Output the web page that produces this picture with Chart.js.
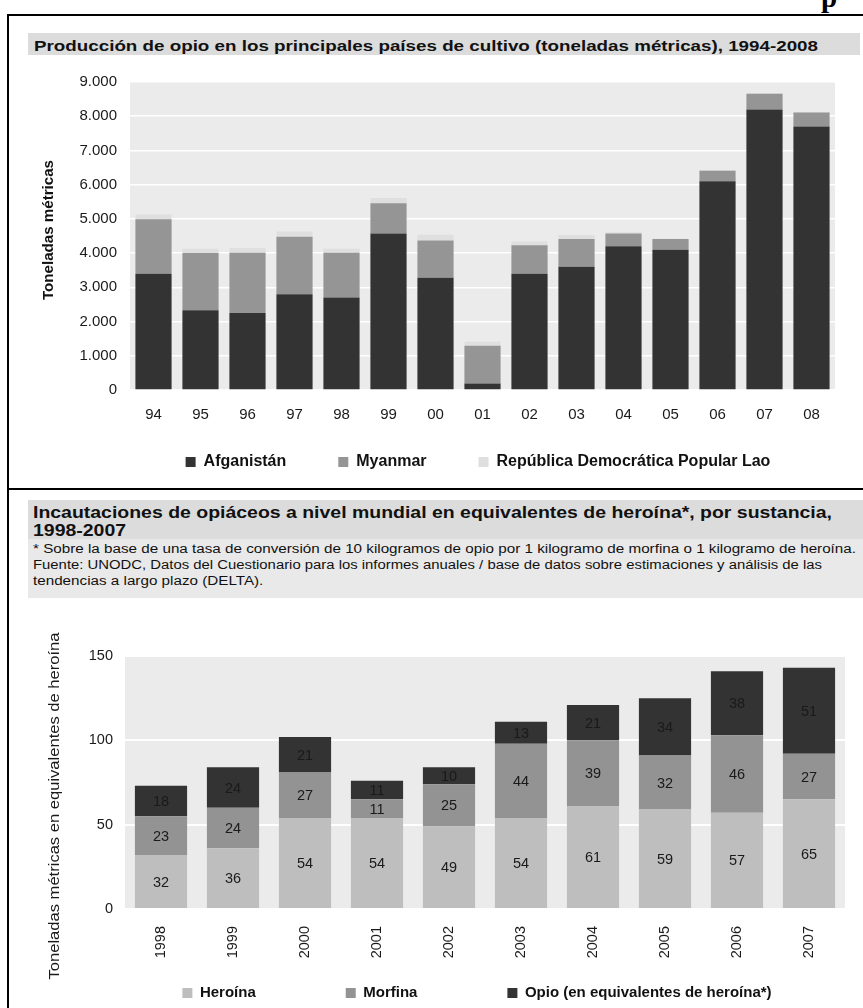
<!DOCTYPE html>
<html lang="es">
<head>
<meta charset="utf-8">
<title>Opio: producción e incautaciones</title>
<script src="https://cdn.jsdelivr.net/npm/chart.js@4.4.1/dist/chart.umd.min.js"></script>
<style>
  html, body { margin: 0; padding: 0; background: #fff; }
  body { position: relative; width: 863px; height: 1008px; overflow: hidden;
         font-family: "Liberation Sans", Arial, sans-serif; color: #111; }
  .rule { position: absolute; background: #000; }
  .band { position: absolute; }
  .txt { position: absolute; white-space: nowrap; transform-origin: 0 0; line-height: 1; }
  canvas { position: absolute; left: 0; }
</style>
</head>
<body>
<div class="txt" style="left:821px;top:-19px;font:bold 29px 'Liberation Serif',serif;color:#000">p</div>
<div class="rule" style="left:7px;top:14px;width:2px;height:994px"></div>
<div class="rule" style="left:7px;top:14px;width:856px;height:2px"></div>
<div class="rule" style="left:7px;top:488px;width:856px;height:2px"></div>

<div class="band" style="left:28px;top:33px;width:832px;height:22px;background:#dcdcdc"></div>
<div class="txt" id="t1" style="left:34px;top:37.3px;font:bold 15px 'Liberation Sans',Arial,sans-serif">Producción de opio en los principales países de cultivo (toneladas métricas), 1994-2008</div>
<canvas id="c1" width="863" height="428" style="top:60px"></canvas>

<div class="band" style="left:28px;top:500px;width:835px;height:39px;background:#dcdcdc"></div>
<div class="band" style="left:28px;top:539px;width:835px;height:59px;background:#e9e9e9"></div>
<div class="txt" id="t2a" style="left:33px;top:503.5px;font:bold 16px 'Liberation Sans',Arial,sans-serif">Incautaciones de opiáceos a nivel mundial en equivalentes de heroína*, por sustancia,</div>
<div class="txt" id="t2b" style="left:33px;top:522px;font:bold 16px 'Liberation Sans',Arial,sans-serif">1998-2007</div>
<div class="txt" id="n1" style="left:33px;top:542.4px;font:12.5px 'Liberation Sans',Arial,sans-serif">* Sobre la base de una tasa de conversión de 10 kilogramos de opio por 1 kilogramo de morfina o 1 kilogramo de heroína.</div>
<div class="txt" id="n2" style="left:33px;top:558.4px;font:12.5px 'Liberation Sans',Arial,sans-serif">Fuente: UNODC, Datos del Cuestionario para los informes anuales / base de datos sobre estimaciones y análisis de las</div>
<div class="txt" id="n3" style="left:33px;top:574.4px;font:12.5px 'Liberation Sans',Arial,sans-serif">tendencias a largo plazo (DELTA).</div>
<canvas id="c2" width="863" height="408" style="top:600px"></canvas>

<script>
// ---- Producción de opio (toneladas métricas), 1994-2008 ----
const years1 = ['94', '95', '96', '97', '98', '99', '00', '01', '02', '03', '04', '05', '06', '07', '08'];
const afganistan = [3400, 2330, 2250, 2800, 2700, 4570, 3280, 190, 3400, 3600, 4200, 4100, 6100, 8200, 7700];
const myanmar = [1590, 1670, 1760, 1680, 1310, 890, 1090, 1100, 830, 810, 370, 310, 310, 460, 410];
const laos = [140, 130, 140, 150, 120, 150, 170, 130, 110, 120, 40, 10, 20, 10, 10];
const yTicks1 = ['0', '1.000', '2.000', '3.000', '4.000', '5.000', '6.000', '7.000', '8.000', '9.000'];

// ---- Incautaciones en equivalentes de heroína, 1998-2007 ----
const years2 = ['1998', '1999', '2000', '2001', '2002', '2003', '2004', '2005', '2006', '2007'];
const heroina = [32, 36, 54, 54, 49, 54, 61, 59, 57, 65];
const morfina = [23, 24, 27, 11, 25, 44, 39, 32, 46, 27];
const opio = [18, 24, 21, 11, 10, 13, 21, 34, 38, 51];
const yTicks2 = ['0', '50', '100', '150'];

const FONT = "'Liberation Sans', Arial, sans-serif";
Chart.defaults.font.family = FONT;
Chart.defaults.color = '#1a1a1a';

// Stretch heading lines so each group spans its measured width.
function fitGroup(ids, target) {
  const ctx = document.createElement('canvas').getContext('2d');
  const first = document.getElementById(ids[0]);
  const cs = getComputedStyle(first);
  ctx.font = cs.fontWeight + ' ' + cs.fontSize + ' ' + cs.fontFamily;
  const k = target / ctx.measureText(first.textContent).width;
  ids.forEach(id => { document.getElementById(id).style.transform = 'scaleX(' + k + ')'; });
}
fitGroup(['t1'], 784);
fitGroup(['t2a', 't2b'], 799);
fitGroup(['n1', 'n3'], 823);
fitGroup(['n2'], 789);

// Grey panel behind the plotting area.
const plotBg = {
  id: 'plotBg',
  beforeDraw(chart, args, o) {
    const { ctx, chartArea: a } = chart;
    ctx.save();
    ctx.fillStyle = o.color;
    ctx.fillRect(a.left, a.top, a.right - a.left, a.bottom - a.top);
    ctx.restore();
  }
};

// Rotated axis title drawn at a fixed spot with a given length.
const axisTitle = {
  id: 'axisTitle',
  afterDraw(chart, args, o) {
    const ctx = chart.ctx;
    ctx.save();
    ctx.font = o.font;
    ctx.fillStyle = o.color;
    ctx.textAlign = 'center';
    ctx.textBaseline = 'middle';
    ctx.translate(o.x, o.y);
    ctx.rotate(-Math.PI / 2);
    const k = o.length ? o.length / ctx.measureText(o.text).width : 1;
    ctx.scale(k, 1);
    ctx.fillText(o.text, 0, 0);
    ctx.restore();
  }
};

// Place the legend row around a chosen centre point.
const legendPlace = {
  id: 'legendPlace',
  afterLayout(chart, args, o) {
    const lg = chart.legend;
    if (!lg) return;
    const w = lg.right - lg.left;
    const pad = lg.options.labels.padding;
    const fs = (lg.options.labels.font && lg.options.labels.font.size) || 12;
    const itemH = Math.max(fs, lg.options.labels.boxHeight || fs);
    lg.left = o.x - w / 2;
    lg.right = lg.left + w;
    lg.top = o.y - pad - itemH / 2;
    lg.bottom = o.y + itemH + 4;
    lg.height = lg.bottom - lg.top;
  }
};

// Values written in the middle of each stacked segment.
const segmentValues = {
  id: 'segmentValues',
  afterDatasetsDraw(chart, args, o) {
    const ctx = chart.ctx;
    ctx.save();
    ctx.font = o.font;
    ctx.fillStyle = o.color;
    ctx.textAlign = 'center';
    ctx.textBaseline = 'middle';
    chart.data.datasets.forEach((ds, i) => {
      chart.getDatasetMeta(i).data.forEach((bar, j) => {
        const p = bar.getProps(['x', 'y', 'base'], true);
        ctx.fillText(String(ds.data[j]), p.x, (p.y + p.base) / 2 + 1);
      });
    });
    ctx.restore();
  }
};

function fixedWidth(w) { return s => { s.width = w; }; }
function xHeight(plotBottom) {
  return s => { s.height = s.chart.height - plotBottom - (s.chart.legend ? s.chart.legend.height : 0); };
}

// Chart 1: plot spans x 130-835, y 21-330 inside its canvas.
new Chart(document.getElementById('c1'), {
  type: 'bar',
  data: {
    labels: years1,
    datasets: [
      { label: 'Afganistán', data: afganistan, backgroundColor: '#333333' },
      { label: 'Myanmar', data: myanmar, backgroundColor: '#959595' },
      { label: 'República Democrática Popular Lao', data: laos, backgroundColor: '#dfdfdf' }
    ]
  },
  options: {
    responsive: false,
    animation: false,
    events: [],
    layout: { padding: { top: 21, right: 28, left: 0, bottom: 0 } },
    datasets: { bar: { categoryPercentage: 1, barPercentage: 0.77, borderWidth: 0 } },
    scales: {
      x: {
        stacked: true,
        grid: { display: false },
        border: { display: false },
        ticks: { font: { size: 15 }, padding: 8, autoSkip: false, maxRotation: 0 },
        afterFit: xHeight(330)
      },
      y: {
        stacked: true,
        min: 0, max: 9000,
        grid: { color: '#ffffff', lineWidth: 1.5, drawTicks: false },
        border: { display: false },
        ticks: { stepSize: 1000, font: { size: 15 }, padding: 13, callback: v => yTicks1[Math.round(v / 1000)] },
        afterFit: fixedWidth(130)
      }
    },
    plugins: {
      legend: {
        position: 'bottom',
        maxHeight: 30,
        labels: { boxWidth: 10, boxHeight: 10, padding: 52, color: '#111', font: { size: 16, weight: 'bold' } }
      },
      tooltip: { enabled: false },
      plotBg: { color: '#ebebeb' },
      axisTitle: { text: 'Toneladas métricas', x: 49, y: 170, length: 140, font: 'bold 15px ' + FONT, color: '#111' },
      legendPlace: { x: 478, y: 402 }
    }
  },
  plugins: [plotBg, axisTitle, legendPlace]
});

// Chart 2: plot spans x 125-845, y 56-309 inside its canvas.
new Chart(document.getElementById('c2'), {
  type: 'bar',
  data: {
    labels: years2,
    datasets: [
      { label: 'Heroína', data: heroina, backgroundColor: '#bebebe' },
      { label: 'Morfina', data: morfina, backgroundColor: '#939393' },
      { label: 'Opio (en equivalentes de heroína*)', data: opio, backgroundColor: '#333333' }
    ]
  },
  options: {
    responsive: false,
    animation: false,
    events: [],
    layout: { padding: { top: 56, right: 18, left: 0, bottom: 0 } },
    datasets: { bar: { categoryPercentage: 1, barPercentage: 0.725, borderWidth: 0 } },
    scales: {
      x: {
        stacked: true,
        grid: { display: false },
        border: { display: false },
        ticks: { font: { size: 14.5 }, padding: 9, autoSkip: false, minRotation: 90, maxRotation: 90 },
        afterFit: xHeight(309)
      },
      y: {
        stacked: true,
        min: 0, max: 150,
        grid: { color: '#ffffff', lineWidth: 2, drawTicks: false },
        border: { display: false },
        ticks: { stepSize: 50, font: { size: 14.5 }, padding: 12, callback: v => yTicks2[Math.round(v / 50)] },
        afterFit: fixedWidth(125)
      }
    },
    plugins: {
      legend: {
        position: 'bottom',
        maxHeight: 30,
        labels: { boxWidth: 10, boxHeight: 10, padding: 90, color: '#111', font: { size: 15, weight: 'bold' } }
      },
      tooltip: { enabled: false },
      plotBg: { color: '#ebebeb' },
      axisTitle: { text: 'Toneladas métricas en equivalentes de heroína', x: 55, y: 206, length: 347, font: '14.5px ' + FONT, color: '#1a1a1a' },
      legendPlace: { x: 477, y: 393 },
      segmentValues: { font: '14.5px ' + FONT, color: '#1a1a1a' }
    }
  },
  plugins: [plotBg, axisTitle, legendPlace, segmentValues]
});
</script>
</body>
</html>
